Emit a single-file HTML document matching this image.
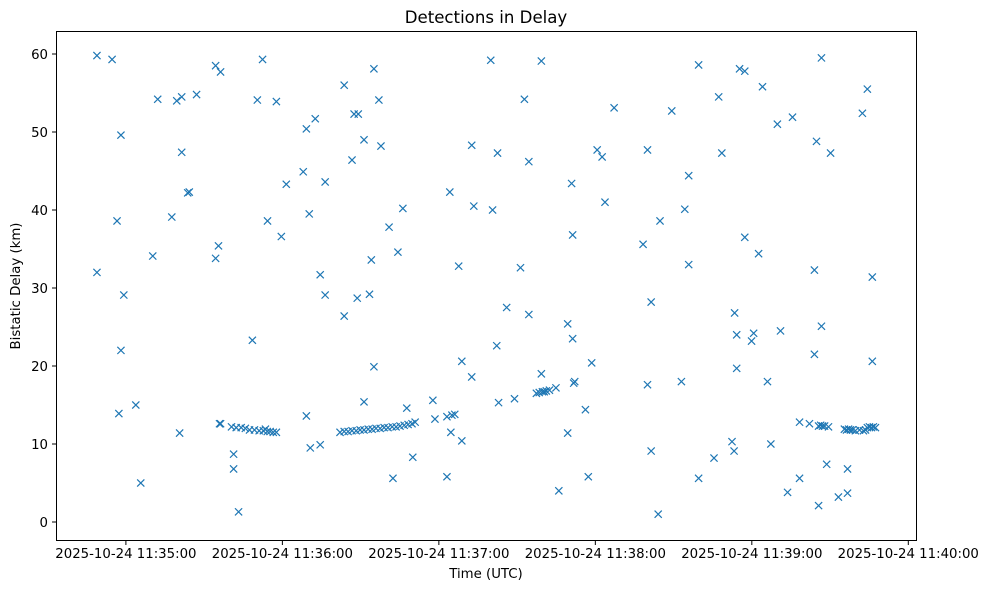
<!DOCTYPE html>
<html><head><meta charset="utf-8"><style>
body{margin:0;background:#fff;}
svg{display:block;font-family:"DejaVu Sans","Liberation Sans",sans-serif;}
</style></head><body>
<svg id="chart" width="989" height="590" viewBox="0 0 989 590" xmlns="http://www.w3.org/2000/svg">
<rect x="0" y="0" width="989" height="590" fill="#fff"/>
<text x="486" y="23" text-anchor="middle" font-size="16.6" fill="#000">Detections in Delay</text>
<text x="486" y="578" text-anchor="middle" font-size="13.3" fill="#000">Time (UTC)</text>
<text transform="translate(20,286) rotate(-90)" text-anchor="middle" font-size="13.3" fill="#000">Bistatic Delay (km)</text>
<g id="ticks"></g>
<g id="marks"></g>
<rect x="56.5" y="31.5" width="860" height="509" fill="none" stroke="#000" stroke-width="1"/>
</svg>
<script>
// seconds after 2025-10-24 11:35:00
const times = [-11.1,-5.3,-1.9,-11.1,-3.4,-1.9,-0.8,-2.7,3.8,5.7,10.3,12.2,17.6,19.5,21.4,21.4,20.6,23.7,24.3,27.1,34.4,36.3,34.4,35.5,35.9,36.3,40.5,41.3,41.3,43.2,
42.3,44.2,45.8,47.4,49.3,51.1,52.7,53.5,54.2,55.3,56.5,57.7,48.5,50.4,52.4,54.3,57.7,59.6,
61.5,69.2,72.6,68.0,70.3,76.4,83.7,87.5,89.1,91.3,86.7,95.1,97.0,97.8,74.5,76.4,83.7,88.7,93.4,94.1,100.9,104.3,106.2,95.1,91.3,69.2,70.7,74.5,107.7,102.4,110.0,
82.1,83.7,85.2,86.7,88.3,89.8,91.3,92.9,94.4,95.9,97.5,99.0,100.5,102.1,103.6,105.1,106.7,108.2,109.7,110.9,
117.7,118.5,123.1,125.0,126.1,124.6,128.8,123.1,124.2,132.6,133.4,140.6,127.6,139.9,142.5,128.8,132.6,142.2,142.9,
149.0,152.8,159.3,154.5,151.3,146.0,154.5,169.4,171.3,178.6,170.9,171.3,187.2,180.7,182.6,183.7,200.0,209.3,219.6,215.8,214.3,204.8,198.3,215.8,201.4,
159.3,157.4,158.5,159.7,160.4,161.2,162.4,164.9,171.7,172.1,176.2,169.4,166.0,177.3,200.0,213.0,201.4,204.1,219.6,
235.3,237.3,227.3,244.1,266.7,284.3,282.4,249.8,255.6,264.8,270.2,228.5,237.3,242.6,264.0,286.2,233.4,234.2,240.7,239.9,251.0,266.7,264.0,286.2,234.2,246.0,
258.3,262.1,265.6,266.4,267.1,267.9,269.4,275.5,276.3,277.1,277.8,278.6,279.7,281.3,282.8,283.6,284.3,285.1,285.9,286.6,287.4,
232.4,233.2,225.5,247.3,268.7,276.7,258.3,253.7,265.6,273.2,276.7];
const delays = [59.8,59.3,49.6,32.0,38.6,22.0,29.1,13.9,15.0,5.0,34.1,54.2,39.1,54.0,54.5,47.4,11.4,42.2,42.3,54.8,58.5,57.7,33.8,35.4,12.6,12.6,12.2,8.7,6.8,1.3,
12.1,12.1,12.0,11.8,11.8,11.7,11.7,11.9,11.6,11.6,11.5,11.5,23.3,54.1,59.3,38.6,53.9,36.6,
43.3,50.4,51.7,44.9,39.5,43.6,56.0,52.3,52.3,49.0,46.4,58.1,54.1,48.2,31.7,29.1,26.4,28.7,29.2,33.6,37.8,34.6,40.2,19.9,15.4,13.6,9.5,9.9,14.6,5.6,8.3,
11.5,11.6,11.6,11.7,11.7,11.8,11.8,11.9,11.9,12.0,12.0,12.1,12.1,12.2,12.2,12.3,12.4,12.5,12.6,12.8,
15.6,13.2,13.5,13.7,13.8,11.5,10.4,5.8,42.3,48.3,40.5,40.0,32.8,59.2,47.3,20.6,18.6,22.6,15.3,
15.8,54.2,59.1,46.2,32.6,27.5,26.6,25.4,23.5,20.4,43.4,36.8,53.1,47.7,46.8,41.0,47.7,52.7,58.6,44.4,40.1,38.6,35.6,33.0,28.2,
19.0,16.5,16.6,16.7,16.7,16.8,16.9,17.2,17.8,18.0,14.4,11.4,4.0,5.8,17.6,18.0,9.1,1.0,5.6,
58.1,57.8,54.5,55.8,59.5,55.5,52.4,51.0,51.9,48.8,47.3,47.3,36.5,34.4,32.3,31.4,26.8,24.0,24.2,23.2,24.5,25.1,21.5,20.6,19.7,18.0,
12.8,12.6,12.3,12.4,12.3,12.3,12.2,11.9,11.8,11.9,11.8,11.8,11.7,11.8,11.7,11.8,12.1,12.2,12.1,12.2,12.1,
10.3,9.1,8.2,10.0,7.4,6.8,5.6,3.8,2.1,3.2,3.7];
const xTickSecs = [0,60,120,180,240,300];
const xTickLabels = ["2025-10-24 11:35:00","2025-10-24 11:36:00","2025-10-24 11:37:00","2025-10-24 11:38:00","2025-10-24 11:39:00","2025-10-24 11:40:00"];
const yTickVals = [0,10,20,30,40,50,60];

const NS="http://www.w3.org/2000/svg";
function xScale(t){return 125.9+t*2.608;}
function yScale(v){return 522-v*7.8;}
const ticks=document.getElementById('ticks');
const marks=document.getElementById('marks');
function mk(tag,attrs,parent){const e=document.createElementNS(NS,tag);for(const k in attrs)e.setAttribute(k,attrs[k]);parent.appendChild(e);return e;}
xTickSecs.forEach((t,i)=>{
  const x=xScale(t);
  const l=mk('line',{x1:x,x2:x,y1:540.5,y2:545,stroke:'#000','stroke-width':1},ticks);
  
  
  const tx=mk('text',{x:x,y:558,'text-anchor':'middle','font-size':'13.3',fill:'#000'},ticks);
  tx.textContent=xTickLabels[i];
  
  
});
yTickVals.forEach(v=>{
  const y=yScale(v);
  const l=mk('line',{x1:52,x2:56.5,y1:y,y2:y,stroke:'#000','stroke-width':1},ticks);
  
  
  const tx=mk('text',{x:48,y:y+4.8,'text-anchor':'end','font-size':'13.3',fill:'#000'},ticks);
  tx.textContent=String(v);
  
  
});
times.forEach((t,i)=>{
  const x=xScale(t),y=yScale(delays[i]),r=3.6;
  const p=mk('path',{d:`M${x-r},${y-r}L${x+r},${y+r}M${x-r},${y+r}L${x+r},${y-r}`,stroke:'#1f77b4','stroke-width':1.2,fill:'none'},marks);
  
  
});
</script>
</body></html>
